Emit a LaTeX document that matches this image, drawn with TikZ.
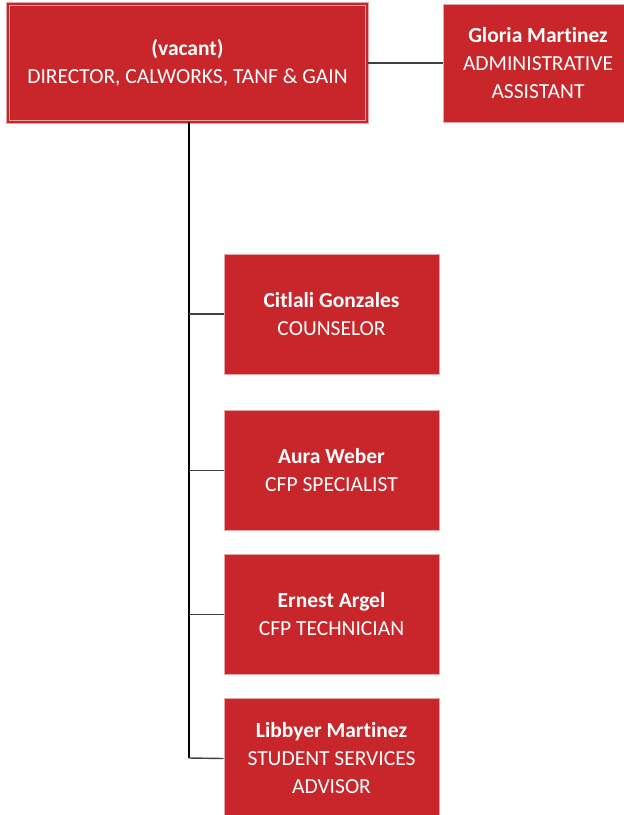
\documentclass[tikz,border=0pt]{standalone}
\usepackage{fontspec}
\setmainfont{Carlito}[Ligatures=NoCommon]
\definecolor{boxred}{HTML}{C8262A}
\definecolor{boxedge}{HTML}{E8A3A4}
\definecolor{linegray}{HTML}{404040}
\begin{document}
\begin{tikzpicture}[
		x=1pt,y=1pt,
		person/.style = {rectangle, fill=boxred, draw=boxedge, line width=1pt,
			text=white, align=center, font=\fontsize{21.5}{28}\selectfont,
			minimum width=215pt, minimum height=120pt, inner sep=0pt},
		link/.style = {draw=linegray, line width=1.4pt},
		trunk/.style = {draw=black, line width=2pt}
	]
	\useasboundingbox (0,0) rectangle (624,-815);
	\node (dir) [person, minimum width=359pt, minimum height=118pt,
		double=boxred, double distance=1.5pt] at (187.5,-63)
		{\textbf{(vacant)}\\DIRECTOR, CALWORKS, TANF \& GAIN};
	\node (asst) [person, minimum width=190pt, minimum height=118pt] at (538,-63)
		{\textbf{Gloria Martinez}\\ADMINISTRATIVE\\ASSISTANT};
	\node (coun) [person] at (331.5,-314) {\textbf{Citlali Gonzales}\\COUNSELOR};
	\node (spec) [person] at (331.5,-470.5) {\textbf{Aura Weber}\\CFP SPECIALIST};
	\node (tech) [person] at (331.5,-614.5) {\textbf{Ernest Argel}\\CFP TECHNICIAN};
	\node (advi) [person] at (331.5,-758.5) {\textbf{Libbyer Martinez}\\STUDENT SERVICES\\ADVISOR};
	\coordinate (top) at (189,-122);
	\coordinate (bend) at (189,-758);

	\path [link] (dir) edge (asst);
	\path [trunk] (top) edge (bend);
	\path [link] (coun.west) edge (coun.west -| top);
	\path [link] (spec.west) edge (spec.west -| top);
	\path [link] (tech.west) edge (tech.west -| top);
	\path [link] (advi.west) edge (bend);
\end{tikzpicture}
\end{document}
